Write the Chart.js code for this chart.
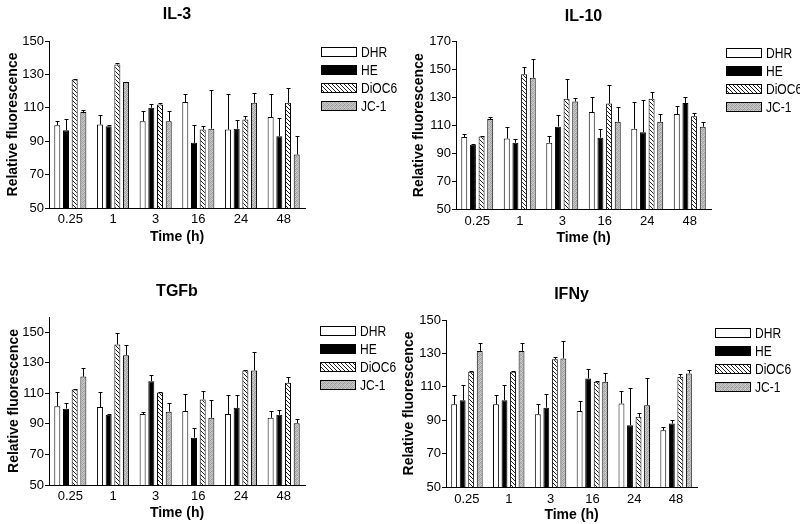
<!DOCTYPE html>
<html>
<head>
<meta charset="utf-8">
<title>Relative fluorescence by cytokine</title>
<script src="https://cdn.jsdelivr.net/npm/chart.js@4.4.1/dist/chart.umd.min.js"></script>
<style>
  html, body { margin: 0; padding: 0; background: #fff; }
  #wrap { position: relative; width: 800px; height: 524px; }
  .panel { position: absolute; width: 400px; height: 262px; }
  .panel canvas { display: block; }
</style>
</head>
<body>
<div id="wrap">
  <div class="panel" style="left:0;top:0"><canvas id="il3" width="400" height="262"></canvas></div>
  <div class="panel" style="left:400px;top:0"><canvas id="il10" width="400" height="262"></canvas></div>
  <div class="panel" style="left:0;top:262px"><canvas id="tgfb" width="400" height="262"></canvas></div>
  <div class="panel" style="left:400px;top:262px"><canvas id="ifny" width="400" height="262"></canvas></div>
</div>
<script>
// ---- datos ----
const timePoints = ['0.25', '1', '3', '16', '24', '48'];
const probes = ['DHR', 'HE', 'DiOC6', 'JC-1'];

const ticks150 = [50, 70, 90, 110, 130, 150];
const ticks170 = [50, 70, 90, 110, 130, 150, 170];

// una fila por sonda: DHR, HE, DiOC6, JC-1
const il3Mean = [
  [99.5, 100, 102, 113.5, 97, 104.5],
  [96.5, 99, 110, 89, 97.5, 93],
  [127, 136, 112, 97, 103, 113],
  [107.5, 125.5, 102, 97.5, 113, 82]
];
const il3Err = [
  [2.5, 5.5, 6, 4.5, 21, 13.5],
  [7, 1, 2, 11, 5, 11],
  [0.3, 1, 1, 2, 2, 9],
  [1, 0.2, 6, 23, 6, 11]
];

const il10Mean = [
  [101.5, 100.5, 97.5, 119.5, 107.5, 118],
  [96, 97.5, 109, 101, 105, 126],
  [102, 146.5, 129, 125.5, 129, 116.5],
  [114.5, 144, 127, 112.5, 112.5, 109]
];
const il10Err = [
  [2.5, 8, 4.5, 10.5, 19.5, 6],
  [0.3, 2.5, 8, 6, 23, 4],
  [0.3, 5.5, 14, 13.5, 5, 2.5],
  [1.5, 13.5, 2.5, 10.5, 5.5, 3.5]
];

const tgfbMean = [
  [101.5, 101, 96.5, 98.5, 96.5, 94],
  [100, 96, 118, 81, 100.5, 96],
  [112.5, 142, 110.5, 106, 125, 117],
  [121, 135, 98, 94, 125, 90.5]
];
const tgfbErr = [
  [9.5, 10, 1, 11, 12.5, 4.5],
  [3.5, 0.3, 4, 6, 8.5, 3],
  [0.5, 7.5, 0.3, 5.5, 0.5, 3.5],
  [5.5, 6.5, 6, 11.5, 12, 2.5]
];

const ifnyMean = [
  [99.5, 99.5, 93.5, 95.5, 100, 84],
  [102, 102, 97.5, 115, 87, 88],
  [119, 119, 126.5, 113, 92, 116],
  [131.5, 131.5, 127, 113, 99, 118]
];
const ifnyErr = [
  [5.5, 5.5, 6.5, 6, 7.5, 2],
  [9, 9, 8, 5.5, 22.5, 2],
  [0.5, 0.5, 1.5, 0.3, 2.5, 1.5],
  [5, 5, 10.5, 5.5, 16.5, 2]
];

// ---- estilos ----
Chart.defaults.font.family = "'Liberation Sans', Arial, sans-serif";
Chart.defaults.color = '#000';

// rayado diagonal para DiOC6
function makeHatch() {
  const c = document.createElement('canvas');
  c.width = 4; c.height = 4;
  const g = c.getContext('2d');
  g.fillStyle = '#fff';
  g.fillRect(0, 0, 4, 4);
  g.fillStyle = '#222';
  for (let i = 0; i < 4; i++) g.fillRect(i, i, 1, 1);
  return g.createPattern(c, 'repeat');
}

// punteado gris para JC-1
function makeStipple() {
  const shades = [
    '#9c9c9c', '#c6c6c6', '#b0b0b0', '#d0d0d0',
    '#bcbcbc', '#a4a4a4', '#cacaca', '#989898',
    '#b4b4b4', '#d4d4d4', '#a0a0a0', '#c0c0c0',
    '#cccccc', '#aaaaaa', '#bebebe', '#a8a8a8'
  ];
  const c = document.createElement('canvas');
  c.width = 4; c.height = 4;
  const g = c.getContext('2d');
  shades.forEach((s, i) => {
    g.fillStyle = s;
    g.fillRect(i % 4, Math.floor(i / 4), 1, 1);
  });
  return g.createPattern(c, 'repeat');
}

const fills = ['#ffffff', '#000000', makeHatch(), makeStipple()];

// barras de error (solo hacia arriba)
const errorBars = {
  id: 'errorBars',
  afterDatasetsDraw(chart) {
    const ctx = chart.ctx;
    const y = chart.scales.y;
    ctx.save();
    ctx.strokeStyle = '#000';
    ctx.lineWidth = 1;
    chart.data.datasets.forEach((ds, i) => {
      chart.getDatasetMeta(i).data.forEach((bar, j) => {
        const top = Math.round(y.getPixelForValue(ds.data[j] + ds.errors[j])) + 0.5;
        const x = Math.round(bar.x) + 0.5;
        ctx.beginPath();
        ctx.moveTo(x, bar.y);
        ctx.lineTo(x, top);
        ctx.moveTo(x - 2, top);
        ctx.lineTo(x + 2, top);
        ctx.stroke();
      });
    });
    ctx.restore();
  }
};

// leyenda con cajas rectangulares (texto algo estrecho, como en la figura)
const boxLegend = {
  id: 'boxLegend',
  afterDraw(chart, args, opts) {
    const ctx = chart.ctx;
    ctx.save();
    ctx.font = "14px 'Liberation Sans', Arial, sans-serif";
    ctx.textBaseline = 'middle';
    ctx.lineWidth = 1;
    chart.data.datasets.forEach((ds, i) => {
      const cy = opts.top + i * 18;
      ctx.fillStyle = ds.backgroundColor;
      ctx.fillRect(opts.left, cy - 5, 36, 10);
      ctx.strokeStyle = '#000';
      ctx.strokeRect(opts.left + 0.5, cy - 4.5, 35, 9);
      ctx.fillStyle = '#000';
      ctx.save();
      ctx.translate(opts.left + 40, cy + 1);
      ctx.scale(0.86, 1);
      ctx.fillText(ds.label, 0, 0);
      ctx.restore();
    });
    ctx.restore();
  }
};

const panels = [
  { id: 'il3', title: 'IL-3', means: il3Mean, errs: il3Err, yMax: 150, yTicks: ticks150,
    left: 49, right: 95, titleTop: 5.4, titleBottom: 16.4, xHeight: 54, xTickPad: 4,
    xTitlePad: 16.6, yTitlePad: 4.6, legendX: 321, legendY: 52 },
  { id: 'il10', title: 'IL-10', means: il10Mean, errs: il10Err, yMax: 170, yTicks: ticks170,
    left: 56, right: 89, titleTop: 7.4, titleBottom: 14.9, xHeight: 53, xTickPad: 5,
    xTitlePad: 15.6, yTitlePad: 10.3, legendX: 326, legendY: 53 },
  { id: 'tgfb', title: 'TGFb', means: tgfbMean, errs: tgfbErr, yMax: 160, yTicks: ticks150,
    left: 49, right: 95, titleTop: 20.4, titleBottom: 15.4, xHeight: 39, xTickPad: 4,
    xTitlePad: 2.6, yTitlePad: 5.3, legendX: 320, legendY: 69 },
  { id: 'ifny', title: 'IFNy', means: ifnyMean, errs: ifnyErr, yMax: 150, yTicks: ticks150,
    left: 46, right: 103, titleTop: 23.4, titleBottom: 15.4, xHeight: 37, xTickPad: 5,
    xTitlePad: 0.6, yTitlePad: 0.6, legendX: 315, legendY: 71 }
];

function createPanel(p) {
  const datasets = probes.map((name, i) => ({
    label: name,
    data: p.means[i],
    errors: p.errs[i],
    backgroundColor: fills[i],
    borderColor: '#000',
    borderWidth: 1,
    categoryPercentage: 0.815,
    barPercentage: 0.69
  }));

  return new Chart(document.getElementById(p.id), {
    type: 'bar',
    data: { labels: timePoints, datasets },
    plugins: [errorBars, boxLegend],
    options: {
      responsive: false,
      animation: false,
      layout: { padding: { top: 0, left: 0, right: p.right, bottom: 0 } },
      plugins: {
        legend: { display: false },
        tooltip: { enabled: false },
        title: {
          display: true,
          text: p.title,
          fullSize: false,
          color: '#000',
          font: { size: 16, weight: 'bold' },
          padding: { top: p.titleTop, bottom: p.titleBottom }
        },
        boxLegend: { left: p.legendX, top: p.legendY }
      },
      scales: {
        x: {
          grid: { display: false, drawTicks: false },
          border: { color: '#000', width: 1 },
          ticks: { padding: p.xTickPad, font: { size: 13 }, color: '#000' },
          title: {
            display: true,
            text: 'Time (h)',
            color: '#000',
            font: { size: 14, weight: 'bold' },
            padding: { top: 0, bottom: p.xTitlePad }
          },
          afterFit(scale) { scale.height = p.xHeight; }
        },
        y: {
          min: 50,
          max: p.yMax,
          grid: { drawOnChartArea: false, drawTicks: true, tickLength: 4, color: '#000' },
          border: { color: '#000', width: 1 },
          ticks: { padding: 1, font: { size: 13 }, color: '#000' },
          afterBuildTicks(scale) {
            scale.ticks = p.yTicks.map(v => ({ value: v }));
          },
          title: {
            display: true,
            text: 'Relative fluorescence',
            color: '#000',
            font: { size: 14, weight: 'bold' },
            padding: { top: p.yTitlePad, bottom: 0 }
          },
          afterFit(scale) { scale.width = p.left; }
        }
      }
    }
  });
}

panels.forEach(createPanel);
</script>
</body>
</html>
